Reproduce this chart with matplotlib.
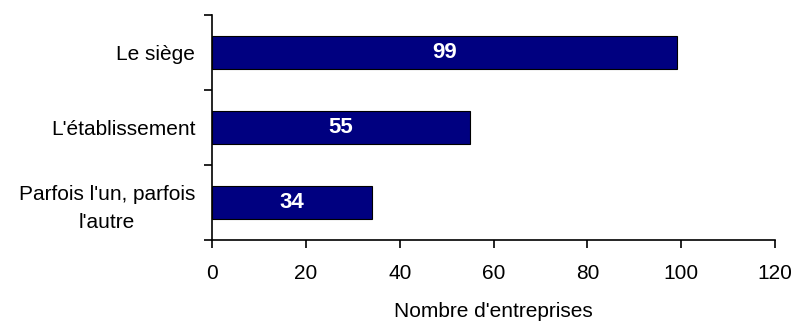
import matplotlib.pyplot as plt
import numpy as np

categories = ["Le siège", "L'établissement", "Parfois l'un, parfois\nl'autre"]
values = [99, 55, 34]
xticks = [0, 20, 40, 60, 80, 100, 120]

plt.rcParams['font.family'] = ['Liberation Sans', 'DejaVu Sans']

fig = plt.figure(figsize=(7.95, 3.22), dpi=100)
ax = fig.add_axes([0.2667, 0.2547, 0.975 - 0.2667, 0.9534 - 0.2547])

y_pos = np.arange(len(categories))
bars = ax.barh(y_pos, values, height=0.43, color="#000080", edgecolor="black", linewidth=0.8)

for bar, v in zip(bars, values):
    ax.text(bar.get_width() / 2, bar.get_y() + bar.get_height() / 2, str(v),
            ha="center", va="center", color="white", fontweight="bold", fontsize=16)

ax.set_xlim(0, 120)
ax.set_ylim(-0.5, len(categories) - 0.5)
ax.invert_yaxis()

ax.set_xticks(xticks)
ax.set_xticklabels([str(t) for t in xticks], fontsize=15)
ax.set_yticks(y_pos)
ax.set_yticklabels(categories, fontsize=15, linespacing=1.55)
for lbl in ax.get_yticklabels():
    lbl.set_multialignment("center")
ax.set_yticks(np.arange(len(categories) + 1) - 0.5, minor=True)

ax.tick_params(axis="y", which="major", length=0, pad=12)
ax.tick_params(axis="y", which="minor", length=6, width=1.2, direction="out")
ax.tick_params(axis="x", length=6, width=1.2, direction="out", pad=11)

ax.set_xlabel("Nombre d'entreprises", fontsize=15, labelpad=14)

for side in ["top", "right"]:
    ax.spines[side].set_visible(False)
for side in ["left", "bottom"]:
    ax.spines[side].set_linewidth(1.2)

fig.savefig("out.png", dpi=100)
plt.close()
